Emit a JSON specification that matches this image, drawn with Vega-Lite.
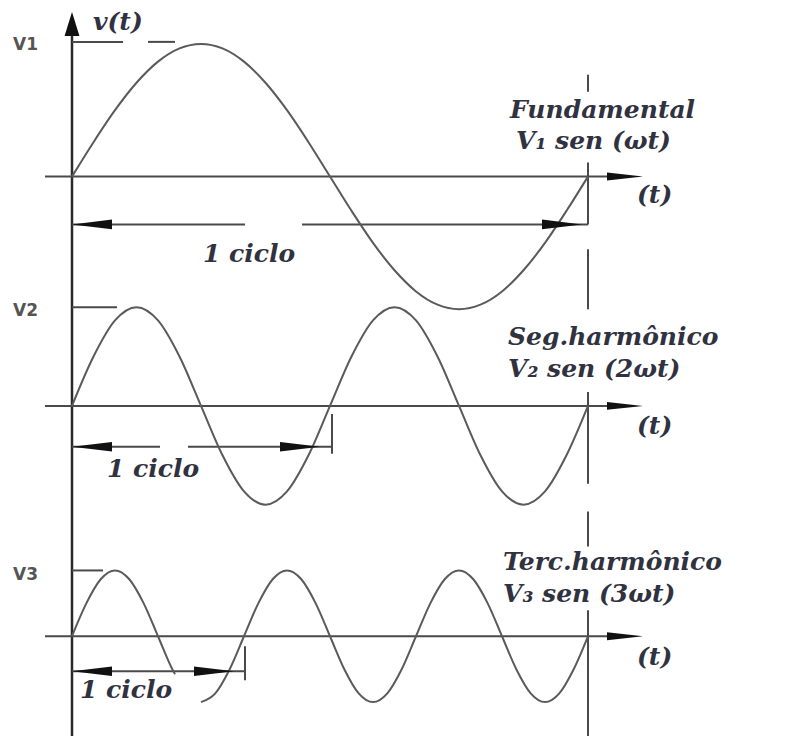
{
  "$schema": "https://vega.github.io/schema/vega-lite/v6.json",
  "width": 798,
  "height": 738,
  "autosize": {"type": "fit", "contains": "padding"},
  "padding": 0,
  "background": "white",
  "config": {"view": {"stroke": null}},
  "datasets": {
    "waves": [
      {"wave": "1", "x": 72, "y": 177}, {"wave": "1", "x": 93.5, "y": 142.6}, {"wave": "1", "x": 115, "y": 110.5},
      {"wave": "1", "x": 136.5, "y": 83}, {"wave": "1", "x": 158, "y": 61.8}, {"wave": "1", "x": 179.5, "y": 48.5},
      {"wave": "1", "x": 201, "y": 44}, {"wave": "1", "x": 222.5, "y": 48.5}, {"wave": "1", "x": 244, "y": 61.8},
      {"wave": "1", "x": 265.5, "y": 83}, {"wave": "1", "x": 287, "y": 110.5}, {"wave": "1", "x": 308.5, "y": 142.6},
      {"wave": "1", "x": 330, "y": 177}, {"wave": "1", "x": 351.5, "y": 211.4}, {"wave": "1", "x": 373, "y": 243.5},
      {"wave": "1", "x": 394.5, "y": 271}, {"wave": "1", "x": 416, "y": 292.2}, {"wave": "1", "x": 437.5, "y": 305.5},
      {"wave": "1", "x": 459, "y": 310}, {"wave": "1", "x": 480.5, "y": 305.5}, {"wave": "1", "x": 502, "y": 292.2},
      {"wave": "1", "x": 523.5, "y": 271}, {"wave": "1", "x": 545, "y": 243.5}, {"wave": "1", "x": 566.5, "y": 211.4},
      {"wave": "1", "x": 588, "y": 177},

      {"wave": "2", "x": 72, "y": 407}, {"wave": "2", "x": 93.5, "y": 357.5}, {"wave": "2", "x": 115, "y": 321.3},
      {"wave": "2", "x": 136.5, "y": 308}, {"wave": "2", "x": 158, "y": 321.3}, {"wave": "2", "x": 179.5, "y": 357.5},
      {"wave": "2", "x": 201, "y": 407}, {"wave": "2", "x": 222.5, "y": 456.5}, {"wave": "2", "x": 244, "y": 492.7},
      {"wave": "2", "x": 265.5, "y": 506}, {"wave": "2", "x": 287, "y": 492.7}, {"wave": "2", "x": 308.5, "y": 456.5},
      {"wave": "2", "x": 330, "y": 407}, {"wave": "2", "x": 351.5, "y": 357.5}, {"wave": "2", "x": 373, "y": 321.3},
      {"wave": "2", "x": 394.5, "y": 308}, {"wave": "2", "x": 416, "y": 321.3}, {"wave": "2", "x": 437.5, "y": 357.5},
      {"wave": "2", "x": 459, "y": 407}, {"wave": "2", "x": 480.5, "y": 456.5}, {"wave": "2", "x": 502, "y": 492.7},
      {"wave": "2", "x": 523.5, "y": 506}, {"wave": "2", "x": 545, "y": 492.7}, {"wave": "2", "x": 566.5, "y": 456.5},
      {"wave": "2", "x": 588, "y": 407},

      {"wave": "3a", "x": 72, "y": 638}, {"wave": "3a", "x": 86.3, "y": 605}, {"wave": "3a", "x": 100.7, "y": 580.8},
      {"wave": "3a", "x": 115, "y": 572}, {"wave": "3a", "x": 129.3, "y": 580.8}, {"wave": "3a", "x": 143.7, "y": 605},
      {"wave": "3a", "x": 158, "y": 638}, {"wave": "3a", "x": 172.3, "y": 671}, {"wave": "3a", "x": 175, "y": 676},

      {"wave": "3b", "x": 201, "y": 704}, {"wave": "3b", "x": 215.3, "y": 695.2}, {"wave": "3b", "x": 229.7, "y": 671},
      {"wave": "3b", "x": 244, "y": 638}, {"wave": "3b", "x": 258.3, "y": 605}, {"wave": "3b", "x": 272.7, "y": 580.8},
      {"wave": "3b", "x": 287, "y": 572}, {"wave": "3b", "x": 301.3, "y": 580.8}, {"wave": "3b", "x": 315.7, "y": 605},
      {"wave": "3b", "x": 330, "y": 638}, {"wave": "3b", "x": 344.3, "y": 671}, {"wave": "3b", "x": 358.7, "y": 695.2},
      {"wave": "3b", "x": 373, "y": 704}, {"wave": "3b", "x": 387.3, "y": 695.2}, {"wave": "3b", "x": 401.7, "y": 671},
      {"wave": "3b", "x": 416, "y": 638}, {"wave": "3b", "x": 430.3, "y": 605}, {"wave": "3b", "x": 444.7, "y": 580.8},
      {"wave": "3b", "x": 459, "y": 572}, {"wave": "3b", "x": 473.3, "y": 580.8}, {"wave": "3b", "x": 487.7, "y": 605},
      {"wave": "3b", "x": 502, "y": 638}, {"wave": "3b", "x": 516.3, "y": 671}, {"wave": "3b", "x": 530.7, "y": 695.2},
      {"wave": "3b", "x": 545, "y": 704}, {"wave": "3b", "x": 559.3, "y": 695.2}, {"wave": "3b", "x": 573.7, "y": 671},
      {"wave": "3b", "x": 588, "y": 638}
    ],
    "segs": [
      {"part": "vaxis", "x": 72, "x2": 72, "y": 30, "y2": 738},
      {"part": "axis", "x": 45, "x2": 620, "y": 177, "y2": 177},
      {"part": "axis", "x": 45, "x2": 620, "y": 407, "y2": 407},
      {"part": "axis", "x": 45, "x2": 620, "y": 638, "y2": 638},
      {"part": "period", "x": 588, "x2": 588, "y": 75, "y2": 92},
      {"part": "period", "x": 588, "x2": 588, "y": 163, "y2": 225},
      {"part": "period", "x": 588, "x2": 588, "y": 250, "y2": 310},
      {"part": "period", "x": 588, "x2": 588, "y": 393, "y2": 485},
      {"part": "period", "x": 588, "x2": 588, "y": 513, "y2": 548},
      {"part": "period", "x": 588, "x2": 588, "y": 612, "y2": 738},
      {"part": "dim", "x": 72, "x2": 245, "y": 225, "y2": 225},
      {"part": "dim", "x": 302, "x2": 588, "y": 225, "y2": 225},
      {"part": "dim", "x": 72, "x2": 160, "y": 448, "y2": 448},
      {"part": "dim", "x": 188, "x2": 332, "y": 448, "y2": 448},
      {"part": "dim", "x": 332, "x2": 332, "y": 415, "y2": 455},
      {"part": "dim", "x": 72, "x2": 245, "y": 673, "y2": 673},
      {"part": "dim", "x": 245, "x2": 245, "y": 648, "y2": 682},
      {"part": "peak", "x": 72, "x2": 123, "y": 42, "y2": 42},
      {"part": "peak", "x": 148, "x2": 175, "y": 42, "y2": 42},
      {"part": "peak", "x": 72, "x2": 117, "y": 308, "y2": 308},
      {"part": "peak", "x": 72, "x2": 103, "y": 572, "y2": 572}
    ],
    "arrows": [
      {"kind": "vaxis", "dir": "up", "x": 72, "y": 12},
      {"kind": "axis", "dir": "right", "x": 643, "y": 177},
      {"kind": "axis", "dir": "right", "x": 643, "y": 407},
      {"kind": "axis", "dir": "right", "x": 643, "y": 638},
      {"kind": "dim", "dir": "left", "x": 72, "y": 225},
      {"kind": "dim", "dir": "right", "x": 582, "y": 225},
      {"kind": "dim", "dir": "left", "x": 72, "y": 448},
      {"kind": "dim", "dir": "right", "x": 320, "y": 448},
      {"kind": "dim", "dir": "left", "x": 72, "y": 673},
      {"kind": "dim", "dir": "right", "x": 234, "y": 673}
    ],
    "labels": [
      {"kind": "math", "x": 93, "y": 22, "label": "v(t)"},
      {"kind": "math", "x": 510, "y": 110, "label": "Fundamental"},
      {"kind": "math", "x": 516, "y": 141, "label": "V₁ sen (ωt)"},
      {"kind": "math", "x": 637, "y": 196, "label": "(t)"},
      {"kind": "math", "x": 203, "y": 255, "label": "1 ciclo"},
      {"kind": "math", "x": 508, "y": 338, "label": "Seg.harmônico"},
      {"kind": "math", "x": 508, "y": 370, "label": "V₂ sen (2ωt)"},
      {"kind": "math", "x": 637, "y": 427, "label": "(t)"},
      {"kind": "math", "x": 107, "y": 470, "label": "1 ciclo"},
      {"kind": "math", "x": 503, "y": 564, "label": "Terc.harmônico"},
      {"kind": "math", "x": 503, "y": 596, "label": "V₃ sen (3ωt)"},
      {"kind": "math", "x": 637, "y": 659, "label": "(t)"},
      {"kind": "math", "x": 80, "y": 692, "label": "1 ciclo"},
      {"kind": "level", "x": 13, "y": 45, "label": "V1"},
      {"kind": "level", "x": 13, "y": 312, "label": "V2"},
      {"kind": "level", "x": 13, "y": 577, "label": "V3"}
    ]
  },
  "encoding": {
    "x": {"field": "x", "type": "quantitative", "scale": {"domain": [0, 798], "nice": false, "zero": false}, "axis": null},
    "y": {"field": "y", "type": "quantitative", "scale": {"domain": [0, 738], "nice": false, "zero": false, "reverse": true}, "axis": null}
  },
  "layer": [
    {
      "data": {"name": "segs"},
      "transform": [{"filter": "datum.part === 'vaxis'"}],
      "mark": {"type": "rule", "stroke": "#2a2a2a", "strokeWidth": 2.5},
      "encoding": {"x2": {"field": "x2"}, "y2": {"field": "y2"}}
    },
    {
      "data": {"name": "segs"},
      "transform": [{"filter": "datum.part !== 'vaxis'"}],
      "mark": {"type": "rule", "stroke": "#4a4a4a", "strokeWidth": 2},
      "encoding": {"x2": {"field": "x2"}, "y2": {"field": "y2"}}
    },
    {
      "data": {"name": "waves"},
      "mark": {"type": "line", "interpolate": "monotone", "stroke": "#5a5a5a", "strokeWidth": 2},
      "encoding": {"detail": {"field": "wave"}}
    },
    {
      "data": {"name": "arrows"},
      "transform": [{"filter": "datum.kind === 'vaxis'"}],
      "mark": {"type": "point", "shape": "M0,0L-2,-0.62L-2,0.62Z", "size": 576, "angle": 270, "filled": true, "color": "#111111", "opacity": 1, "strokeWidth": 0}
    },
    {
      "data": {"name": "arrows"},
      "transform": [{"filter": "datum.kind === 'axis'"}],
      "mark": {"type": "point", "shape": "M0,0L-2,-0.22L-2,0.22Z", "size": 1296, "angle": 0, "filled": true, "color": "#111111", "opacity": 1, "strokeWidth": 0}
    },
    {
      "data": {"name": "arrows"},
      "transform": [{"filter": "datum.kind === 'dim' && datum.dir === 'right'"}],
      "mark": {"type": "point", "shape": "M0,0L-2,-0.24L-2,0.24Z", "size": 1600, "angle": 0, "filled": true, "color": "#111111", "opacity": 1, "strokeWidth": 0}
    },
    {
      "data": {"name": "arrows"},
      "transform": [{"filter": "datum.kind === 'dim' && datum.dir === 'left'"}],
      "mark": {"type": "point", "shape": "M0,0L-2,-0.24L-2,0.24Z", "size": 1600, "angle": 180, "filled": true, "color": "#111111", "opacity": 1, "strokeWidth": 0}
    },
    {
      "data": {"name": "labels"},
      "transform": [{"filter": "datum.kind === 'math'"}],
      "mark": {"type": "text", "align": "left", "baseline": "middle", "font": "DejaVu Serif", "fontStyle": "italic", "fontWeight": "bold", "fontSize": 25, "color": "#30323f"},
      "encoding": {"text": {"field": "label"}}
    },
    {
      "data": {"name": "labels"},
      "transform": [{"filter": "datum.kind === 'level'"}],
      "mark": {"type": "text", "align": "left", "baseline": "middle", "font": "DejaVu Sans", "fontWeight": "bold", "fontSize": 17, "color": "#555555"},
      "encoding": {"text": {"field": "label"}}
    }
  ]
}
